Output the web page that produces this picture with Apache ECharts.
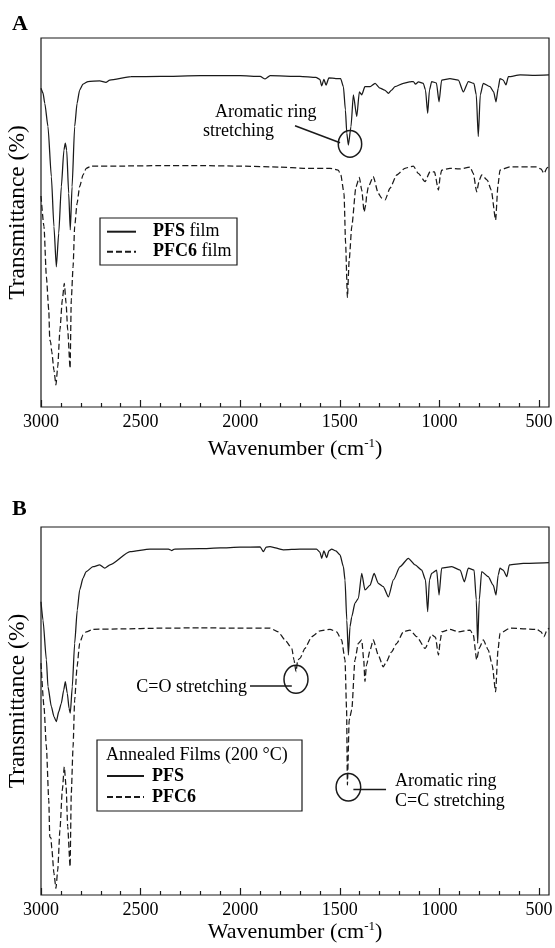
<!DOCTYPE html>
<html><head><meta charset="utf-8">
<script src="https://cdn.jsdelivr.net/npm/echarts@6/dist/echarts.min.js"></script>
<style>html,body{margin:0;padding:0;background:#fff}#c{width:555px;height:948px}</style>
</head><body><div id="c"></div>
<script>
const FONT = 'Liberation Serif';
const INK = '#1a1a1a';

// axis ticks (wavenumber, cm-1)
const majorTicks = [3000, 2500, 2000, 1500, 1000, 500];
const minorTicks = [2900, 2800, 2700, 2600, 2400, 2300, 2200, 2100, 1900, 1800, 1700, 1600,
  1400, 1300, 1200, 1100, 900, 800, 700, 600];

// Panel A: as-cast films  [wavenumber, transmittance (arb.)]
const pfsA = [[3000,86.4],[2990,85.1],[2981,82.3],[2965,76.0],[2948,62.4],[2935,48.9],[2923,38.0],[2911,47.1],[2898,59.7],[2885,69.6],[2878,71.5],[2871,69.6],[2861,57.9],[2853,48.0],[2844,59.7],[2831,76.0],[2819,82.3],[2806,85.9],[2789,87.5],[2764,88.2],[2705,88.4],[2674,88.0],[2655,88.6],[2548,89.5],[2400,89.6],[2200,89.8],[2000,89.8],[1900,89.6],[1875,88.9],[1850,89.8],[1700,89.6],[1620,89.3],[1600,88.8],[1591,87.0],[1580,88.8],[1569,87.2],[1555,89.2],[1520,89.0],[1496,89.0],[1482,86.8],[1472,80.5],[1465,74.2],[1457,71.0],[1444,76.0],[1432,84.6],[1415,78.7],[1402,85.4],[1390,84.6],[1374,86.8],[1348,86.8],[1323,87.7],[1298,86.4],[1275,85.9],[1256,85.0],[1240,85.9],[1223,86.8],[1181,87.7],[1150,88.1],[1131,88.2],[1120,87.5],[1105,88.1],[1081,87.7],[1070,85.9],[1059,79.6],[1050,85.9],[1039,88.2],[1015,87.8],[1002,82.7],[989,88.6],[947,89.0],[905,88.6],[880,85.4],[855,88.2],[827,87.7],[815,84.6],[805,73.3],[795,84.6],[780,87.7],[746,86.8],[728,85.4],[716,82.7],[705,86.4],[696,89.0],[680,88.6],[666,87.3],[654,89.5],[595,90.0],[520,89.9],[450,90.0]];

const pfc6A = [[3000,57.2],[2985,48.9],[2973,35.3],[2961,26.3],[2956,18.2],[2952,17.7],[2946,15.0],[2935,10.0],[2925,6.0],[2916,10.9],[2905,20.9],[2893,29.0],[2883,33.5],[2874,28.1],[2866,20.9],[2854,10.5],[2848,29.0],[2839,38.0],[2831,48.9],[2819,55.2],[2806,59.7],[2789,62.9],[2773,64.7],[2747,65.3],[2600,65.3],[2400,65.4],[2200,65.4],[2000,65.3],[1800,65.0],[1683,64.7],[1549,64.7],[1508,64.2],[1495,62.9],[1479,57.9],[1471,44.4],[1462,29.7],[1453,39.8],[1440,48.9],[1419,59.7],[1402,62.2],[1390,58.8],[1378,52.9],[1370,54.7],[1365,57.5],[1357,59.7],[1332,62.4],[1307,57.9],[1290,56.6],[1273,56.1],[1248,59.3],[1214,62.9],[1173,64.7],[1131,65.3],[1106,63.3],[1072,61.1],[1047,63.8],[1025,63.7],[1005,58.8],[995,62.9],[989,64.2],[947,64.7],[900,64.5],[846,65.0],[830,63.3],[813,58.3],[800,61.5],[788,62.9],[760,61.5],[740,58.8],[718,50.7],[706,60.2],[696,64.2],[646,65.1],[512,65.1],[490,64.5],[475,63.3],[460,64.8],[450,65.1]];

// Panel B: annealed films (200 °C)
const pfsB = [[3000,79.7],[2990,74.7],[2973,63.9],[2965,56.6],[2948,51.2],[2935,48.5],[2923,47.1],[2911,49.8],[2898,52.1],[2886,55.7],[2878,58.0],[2868,54.8],[2859,50.7],[2853,49.4],[2843,56.6],[2831,68.4],[2818,77.4],[2806,82.9],[2789,86.1],[2773,87.9],[2739,89.2],[2705,89.7],[2680,88.8],[2654,89.7],[2553,93.3],[2453,94.0],[2360,94.0],[2344,93.6],[2330,94.0],[2202,94.1],[2100,94.3],[2001,94.5],[1900,94.6],[1884,93.3],[1870,94.5],[1850,94.7],[1784,93.8],[1700,94.0],[1617,94.0],[1600,93.2],[1591,91.5],[1580,93.5],[1566,91.7],[1555,93.5],[1541,94.0],[1520,93.5],[1499,92.4],[1482,89.2],[1474,85.6],[1465,74.7],[1457,65.2],[1449,72.9],[1440,75.6],[1424,79.3],[1407,80.6],[1390,87.4],[1374,82.9],[1348,84.2],[1328,87.4],[1307,84.7],[1282,83.8],[1256,81.0],[1231,85.6],[1198,89.2],[1156,91.5],[1122,89.7],[1089,88.3],[1070,85.6],[1059,77.0],[1050,85.6],[1039,87.4],[1014,88.3],[1002,81.5],[989,88.8],[938,89.2],[896,88.3],[875,85.1],[855,88.8],[826,88.3],[815,80.2],[808,68.4],[800,80.2],[788,87.9],[755,86.5],[730,84.2],[716,81.5],[705,87.0],[696,88.8],[680,88.3],[662,86.5],[649,89.7],[579,90.1],[450,90.3]];

const pfc6B = [[3000,63.0],[2985,51.2],[2973,40.3],[2961,25.8],[2956,15.8],[2950,15.5],[2946,12.7],[2935,5.9],[2925,1.8],[2916,6.8],[2905,17.7],[2893,28.5],[2883,34.8],[2874,29.4],[2866,18.6],[2854,7.7],[2848,27.6],[2839,40.3],[2831,53.0],[2819,62.0],[2806,68.4],[2789,70.7],[2773,71.5],[2739,72.2],[2600,72.3],[2400,72.5],[2200,72.6],[2000,72.5],[1850,72.5],[1809,71.5],[1775,69.3],[1741,67.0],[1730,63.9],[1720,60.7],[1711,63.9],[1700,64.3],[1675,67.0],[1641,70.2],[1599,71.8],[1549,72.2],[1516,71.5],[1491,69.3],[1474,63.9],[1466,50.3],[1462,29.9],[1453,47.6],[1440,50.3],[1424,63.9],[1407,68.4],[1390,69.3],[1380,63.9],[1374,58.0],[1366,62.5],[1348,66.6],[1332,69.3],[1307,65.2],[1282,62.0],[1270,63.0],[1240,66.1],[1214,68.4],[1181,71.5],[1148,72.0],[1114,70.2],[1072,67.0],[1039,70.7],[1020,70.1],[1005,65.2],[995,69.3],[989,71.5],[947,72.2],[905,71.5],[846,72.0],[830,70.7],[813,63.9],[800,67.1],[780,69.3],[755,66.6],[735,62.5],[718,55.2],[706,66.6],[696,71.1],[646,72.5],[512,72.2],[490,71.5],[475,70.2],[460,72.0],[450,72.5]];

// annotation anchors in data coordinates
const annA = {ring:[1449,71.3], from:[1725,76.2], to:[1499,71.6], t1:[2126,79.9], t2:[2187,74.8]};
const annB_CO = {ring:[1720,58.6], from:[1951,56.8], to:[1741,56.8], t:[1966,56.5]};
const annB_CC = {ring:[1457,29.3], from:[1432,28.7], to:[1268,28.7], t1:[1223,30.8], t2:[1223,25.4]};

const grids = [
  {left:41, top:38, width:508, height:369},
  {left:41, top:527, width:508, height:368}
];
const titleGaps = [30, 23];

function xMajor(gi){
  return {type:'value', gridIndex:gi, min:450, max:3000, inverse:true, position:'bottom',
    name:'Wavenumber (cm{sup|-1})', nameLocation:'middle', nameGap:titleGaps[gi],
    nameTextStyle:{fontFamily:FONT, fontSize:22, color:'#000', lineHeight:24,
      rich:{sup:{fontFamily:FONT, fontSize:13, color:'#000', verticalAlign:'top', lineHeight:12}}},
    axisLine:{show:false}, splitLine:{show:false},
    axisTick:{show:true, inside:true, length:7, customValues:majorTicks, lineStyle:{color:INK, width:1.2}},
    axisLabel:{show:true, customValues:majorTicks, margin:6, fontFamily:FONT, fontSize:18, color:'#000',
      formatter: v => String(v)}};
}
function xMinor(gi){
  return {type:'value', gridIndex:gi, min:450, max:3000, inverse:true, position:'bottom',
    axisLine:{show:false}, splitLine:{show:false}, axisLabel:{show:false},
    axisTick:{show:true, inside:true, length:4, customValues:minorTicks, lineStyle:{color:INK, width:1.2}}};
}
function yAx(gi){
  return {type:'value', gridIndex:gi, min:0, max:100, name:'Transmittance (%)', nameLocation:'middle', nameGap:11,
    nameTextStyle:{fontFamily:FONT, fontSize:23.5, color:'#000', padding:[0,0,0,20]},
    axisLine:{show:false}, axisTick:{show:false}, axisLabel:{show:false}, splitLine:{show:false}};
}
function ser(name, data, xi, yi, dashed){
  return {name:name, type:'line', xAxisIndex:xi, yAxisIndex:yi, data:data, symbol:'none', smooth:0.2,
    smoothMonotone:'x', color:INK, silent:true,
    lineStyle:{color:INK, width:1.25, type: dashed ? [6,3] : 'solid'}};
}

const option = {
  animation:false,
  backgroundColor:'#fff',
  grid: grids.map(g => Object.assign({show:true, borderColor:INK, borderWidth:1.2, backgroundColor:'transparent',
    containLabel:false, outerBoundsMode:'none'}, g)),
  xAxis:[xMajor(0), xMinor(0), xMajor(1), xMinor(1)],
  yAxis:[yAx(0), yAx(1)],
  legend:[
    {data:['PFS film','PFC6 film'], orient:'vertical', left:106, top:221.7, itemWidth:29, itemHeight:10, itemGap:0,
     padding:0, selectedMode:false, itemStyle:{opacity:0},
     formatter: n => '{b|' + n.split(' ')[0] + '} film',
     textStyle:{fontFamily:FONT, fontSize:18, color:'#000', lineHeight:20, padding:[0,0,0,12],
       rich:{b:{fontFamily:FONT, fontSize:18, fontWeight:'bold', color:'#000', lineHeight:20}}}},
    {data:['PFS','PFC6'], orient:'vertical', left:106, top:765.5, itemWidth:37, itemHeight:10, itemGap:0,
     padding:0, selectedMode:false, itemStyle:{opacity:0},
     formatter: n => '{b|' + n + '}',
     textStyle:{fontFamily:FONT, fontSize:18, color:'#000', lineHeight:21, padding:[0,0,0,3],
       rich:{b:{fontFamily:FONT, fontSize:18, fontWeight:'bold', color:'#000', lineHeight:21}}}}
  ],
  series:[
    ser('PFS film', pfsA, 0, 0, false),
    ser('PFC6 film', pfc6A, 0, 0, true),
    ser('PFS', pfsB, 2, 1, false),
    ser('PFC6', pfc6B, 2, 1, true)
  ]
};

const chart = echarts.init(document.getElementById('c'), null, {renderer:'canvas'});
chart.setOption(option);

function P(gi, pt){ return chart.convertToPixel({xAxisIndex: gi*2, yAxisIndex: gi}, pt); }
function txt(p, s, align, opts){
  return Object.assign({type:'text', x:p[0], y:p[1], silent:true,
    style:{text:s, fontFamily:FONT, fontSize:18, fill:'#000', align:align||'left', verticalAlign:'middle'}}, opts||{});
}
function ln(a, b, w){ return {type:'line', silent:true, shape:{x1:a[0], y1:a[1], x2:b[0], y2:b[1]}, style:{stroke:INK, lineWidth:w||1.5}}; }
function ring(p, rx, ry){ return {type:'ellipse', silent:true, shape:{cx:p[0], cy:p[1], rx:rx, ry:ry}, style:{fill:null, stroke:INK, lineWidth:1.5}}; }

const g = [];
// panel letters
g.push({type:'text', x:12, y:24.5, silent:true, style:{text:'A', fontFamily:FONT, fontSize:22, fontWeight:'bold', fill:'#000', verticalAlign:'middle'}});
g.push({type:'text', x:12, y:509.5, silent:true, style:{text:'B', fontFamily:FONT, fontSize:22, fontWeight:'bold', fill:'#000', verticalAlign:'middle'}});
// legend boxes
g.push({type:'rect', silent:true, shape:{x:100, y:218, width:137, height:47}, style:{fill:'#fff', stroke:INK, lineWidth:1.2}, z:-1, zlevel:0});
g.push({type:'rect', silent:true, shape:{x:97, y:740, width:205, height:71}, style:{fill:'#fff', stroke:INK, lineWidth:1.2}, z:-1, zlevel:0});
g.push(txt([106, 755], 'Annealed Films (200 °C)', 'left'));
// panel A annotation
g.push(ring(P(0, annA.ring), 11.7, 13.3));
g.push(ln(P(0, annA.from), P(0, annA.to)));
g.push(txt(P(0, annA.t1), 'Aromatic ring'));
g.push(txt(P(0, annA.t2), 'stretching'));
// panel B annotations
g.push(ring(P(1, annB_CO.ring), 12, 14));
g.push(ln(P(1, annB_CO.from), P(1, annB_CO.to)));
g.push(txt(P(1, annB_CO.t), 'C=O stretching', 'right'));
g.push(ring(P(1, annB_CC.ring), 12.3, 13.8));
g.push(ln(P(1, annB_CC.from), P(1, annB_CC.to)));
g.push(txt(P(1, annB_CC.t1), 'Aromatic ring'));
g.push(txt(P(1, annB_CC.t2), 'C=C stretching'));

chart.setOption({graphic: g});
</script>
</body></html>
